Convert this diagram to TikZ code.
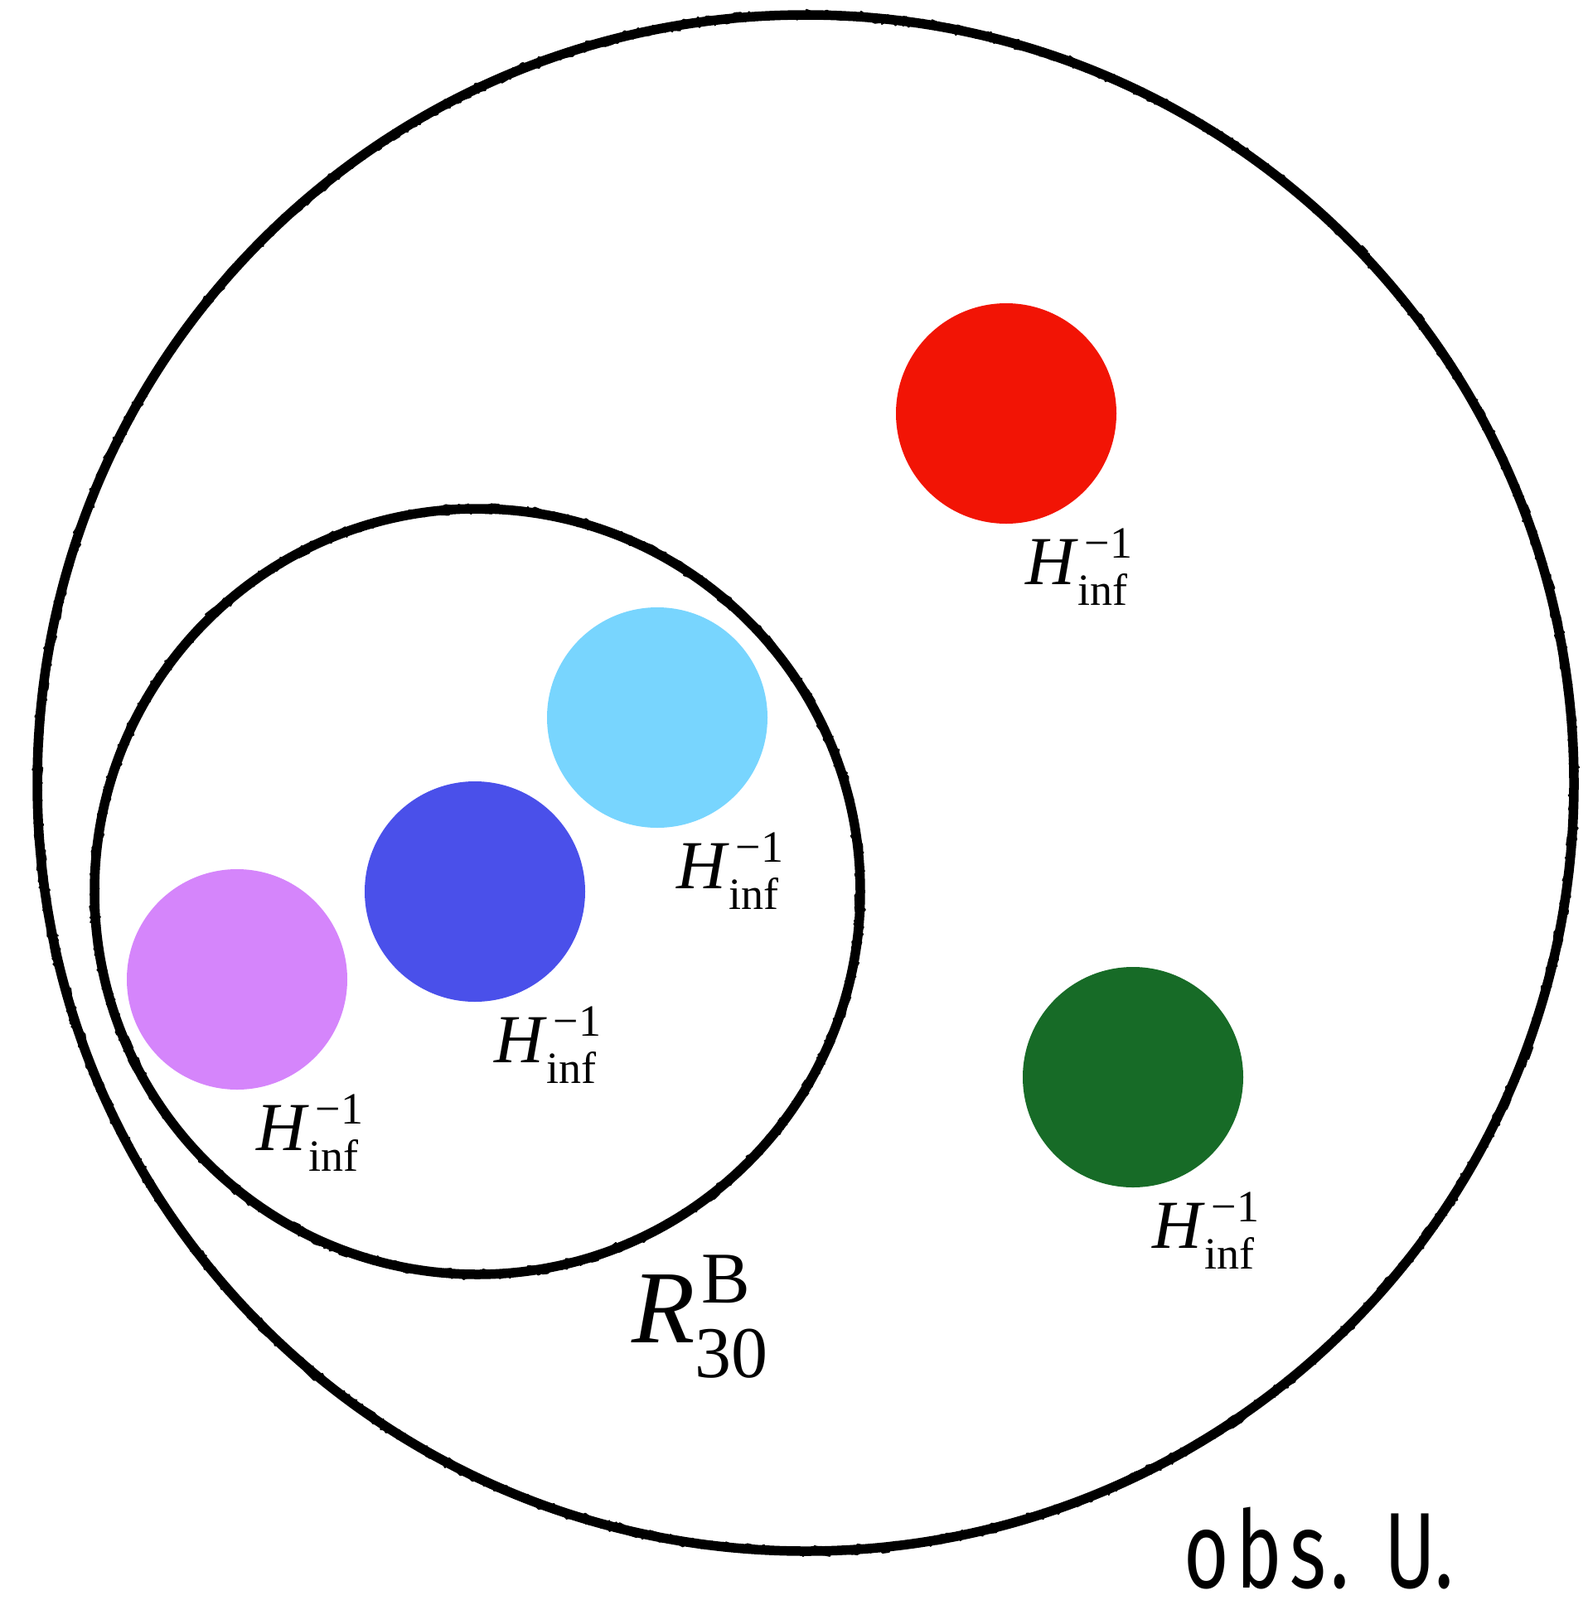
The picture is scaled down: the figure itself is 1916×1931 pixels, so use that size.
\documentclass[tikz,border=0pt]{standalone}
\usepackage{fontspec}
\setmainfont{Liberation Serif}
\newfontfamily\obsfont[FakeStretch=0.72]{Fira Sans}
\usetikzlibrary{decorations.pathmorphing}
\definecolor{cred}{RGB}{242,20,5}
\definecolor{ccyan}{RGB}{120,213,254}
\definecolor{cblue}{RGB}{74,80,234}
\definecolor{cviolet}{RGB}{213,133,251}
\definecolor{cgreen}{RGB}{23,107,39}
\newcommand{\hlab}{\textit{H}\rlap{\kern8pt\raisebox{32pt}{\fontsize{54}{54}\selectfont −1}}\raisebox{-25pt}{\fontsize{54}{54}\selectfont inf}}
\tikzset{
  roughbase/.style={draw=black,line width=11.5pt},
  roughedge/.style={draw=black,line width=2.5pt,line join=round,line cap=round,decorate,decoration={random steps,segment length=4pt,amplitude=6pt}},
  roughedgeb/.style={draw=black,line width=2pt,line join=round,line cap=round,decorate,decoration={random steps,segment length=7pt,amplitude=6.5pt}},
  disc/.style={circle,inner sep=0pt,minimum size=266pt},
  hlabel/.style={anchor=base west,inner sep=0pt,font=\fontsize{83}{90}\selectfont}
}
\begin{document}
\begin{tikzpicture}[x=1pt,y=-1pt]
\useasboundingbox (0,0) rectangle (1916,1931);
\coordinate (outer) at (972,945);
\coordinate (inner) at (576,1076);
\foreach \c/\r in {outer/927,inner/462}{
  \draw[roughbase] (\c) circle[radius=\r];
  \draw[roughedge] (\c) circle[radius=\r];
  \draw[roughedgeb] (\c) circle[radius=\r];
}
\node[disc,fill=cred] (red) at (1214,499) {};
\node[disc,fill=ccyan] (cyan) at (793,866) {};
\node[disc,fill=cblue] (blue) at (573,1076) {};
\node[disc,fill=cviolet] (violet) at (286,1182) {};
\node[disc,fill=cgreen] (green) at (1367,1300) {};
\foreach \d in {red,cyan,blue,violet,green}{
  \node[hlabel] (lab-\d) at ([shift={(23,206)}]\d.center) {\hlab};
}
\node[anchor=base west,inner sep=0pt,font=\fontsize{125}{130}\selectfont] (rlab) at (762,1620)
  {\textit{R}\rlap{\kern8pt\raisebox{48pt}{\fontsize{88}{88}\selectfont B}}\raisebox{-42pt}{\fontsize{88}{88}\selectfont 30}};
\node[anchor=base west,inner sep=0pt,font=\obsfont\fontsize{130}{130}\selectfont] (obs) at (1428,1916)
  {o\kern9pt b\kern9pt s\kern5pt.\kern10pt{} U.};
\end{tikzpicture}
\end{document}
